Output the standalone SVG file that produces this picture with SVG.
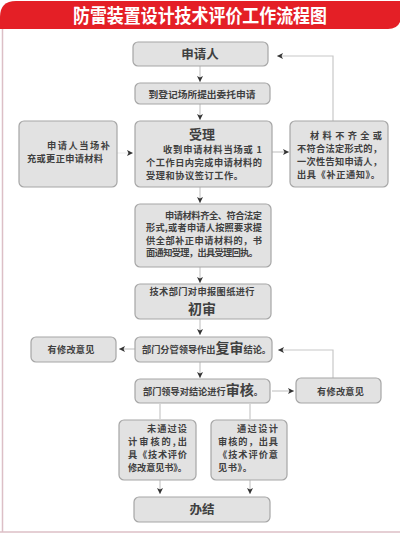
<svg xmlns="http://www.w3.org/2000/svg" width="400" height="535" viewBox="0 0 400 535">
<style>
.box{fill:#e2e2e2;stroke:#a6a6a6;stroke-width:1.2}
.t{font-family:"Noto Sans CJK SC","Noto Sans",sans-serif;fill:#404040;font-size:9.2px;font-weight:bold}
.big{font-size:14px;font-weight:bold}
.c{text-anchor:middle}
.ln{fill:none;stroke:#c8c8c8;stroke-width:1.2}
.title{font-family:"Noto Sans CJK SC","Noto Sans",sans-serif;fill:#ffffff;font-size:19px;font-weight:bold;text-anchor:middle}
</style>
<defs>
<marker id="ah" viewBox="0 0 8 8" refX="8" refY="4" markerWidth="6" markerHeight="6" markerUnits="userSpaceOnUse" orient="auto">
<path d="M0,0 L8,4 L0,8 L2,4 Z" fill="#333"/>
</marker>
</defs>
<rect width="400" height="535" fill="#ffffff"/>
<g id="frame">
<path d="M2.5,29 V532" stroke="#dcbfc6" stroke-width="1.5" fill="none"/>
<path d="M0,532 H400" stroke="#dcbfc6" stroke-width="1.5" fill="none"/>
<path d="M16,1 H400 V29 H0 V17 Q0,1 16,1 Z" fill="#e41f26"/>
<path d="M388,29 Q397,29 400,22 V29 Z" fill="#ffffff"/>
<text class="title" x="200" y="23" textLength="254" lengthAdjust="spacingAndGlyphs">防雷装置设计技术评价工作流程图</text>
</g>
<g id="connectors">
<path class="ln" d="M200,66 V82" marker-end="url(#ah)"/>
<path class="ln" d="M200,104 V120" marker-end="url(#ah)"/>
<path d="M117,153 H133" stroke="#eeeeee" stroke-width="1.2" marker-end="url(#ah)"/>
<path class="ln" d="M272,152 H289" marker-end="url(#ah)"/>
<path class="ln" d="M333,121 V56 H277" marker-end="url(#ah)"/>
<path class="ln" d="M200,187 V203" marker-end="url(#ah)"/>
<path class="ln" d="M200,267 V283" marker-end="url(#ah)"/>
<path class="ln" d="M200,319 V335" marker-end="url(#ah)"/>
<path class="ln" d="M135,349 H119" marker-end="url(#ah)"/>
<path class="ln" d="M200,362 V378" marker-end="url(#ah)"/>
<path class="ln" d="M272,391 H294" marker-end="url(#ah)"/>
<path class="ln" d="M333,378 V350 H278" marker-end="url(#ah)"/>
<path class="ln" d="M160,404 V419"/>
<path class="ln" d="M250,404 V419"/>
<path class="ln" d="M160,480 V494" marker-end="url(#ah)"/>
<path class="ln" d="M250,480 V494" marker-end="url(#ah)"/>
</g>
<g id="n-applicant">
<rect class="box" x="133" y="42" width="135" height="24" rx="5"/>
<text class="t c" x="200" y="59" style="font-size:12.5px">申请人</text>
</g>
<g id="n-register">
<rect class="box" x="135" y="83" width="135" height="21" rx="5"/>
<text class="t c" x="202" y="97.5" textLength="107" lengthAdjust="spacingAndGlyphs">到登记场所提出委托申请</text>
</g>
<g id="n-supplement">
<rect class="box" x="19" y="121" width="98" height="66" rx="5"/>
<text class="t" x="47" y="148.5" textLength="63" lengthAdjust="spacing">申请人当场补</text>
<text class="t" x="27" y="161.5" textLength="76" lengthAdjust="spacing">充或更正申请材料</text>
</g>
<g id="n-accept">
<rect class="box" x="135" y="121" width="137" height="66" rx="5"/>
<text class="t c big" x="202" y="139" style="font-size:13px">受理</text>
<text class="t" x="163" y="152.5" textLength="99" lengthAdjust="spacing">收到申请材料当场或 1</text>
<text class="t" x="146" y="165.5" textLength="116" lengthAdjust="spacing">个工作日内完成申请材料的</text>
<text class="t" x="146" y="178.5" textLength="97" lengthAdjust="spacing">受理和协议签订工作。</text>
</g>
<g id="n-notify">
<rect class="box" x="290" y="121" width="98" height="66" rx="5"/>
<text class="t" x="310" y="138.5" textLength="72" lengthAdjust="spacing">材料不齐全或</text>
<text class="t" x="297" y="151.5" textLength="85" lengthAdjust="spacing">不符合法定形式的，</text>
<text class="t" x="297" y="164.5" textLength="85" lengthAdjust="spacing">一次性告知申请人，</text>
<text class="t" x="297" y="177.5" textLength="83" lengthAdjust="spacing">出具《补正通知》。</text>
</g>
<g id="n-complete">
<rect class="box" x="135" y="204" width="136" height="63" rx="5"/>
<text class="t" x="165" y="218.5" textLength="97" lengthAdjust="spacing">申请材料齐全、符合法定</text>
<text class="t" x="146" y="231" textLength="116" lengthAdjust="spacing">形式,或者申请人按照要求提</text>
<text class="t" x="146" y="243.5" textLength="116" lengthAdjust="spacing">供全部补正申请材料的，书</text>
<text class="t" x="146" y="256" textLength="112" lengthAdjust="spacing">面通知受理，出具受理回执。</text>
</g>
<g id="n-first-review">
<rect class="box" x="135" y="284" width="136" height="35" rx="5"/>
<text class="t c" x="202" y="295" textLength="105" lengthAdjust="spacing">技术部门对申报图纸进行</text>
<text class="t c big" x="202" y="313.5">初审</text>
</g>
<g id="n-re-review">
<rect class="box" x="135" y="337" width="137" height="25" rx="5"/>
<text class="t" x="142" y="353">部门分管领导作出<tspan style="font-size:14px">复审</tspan>结论。</text>
</g>
<g id="n-mod-left">
<rect class="box" x="31" y="337" width="85" height="25" rx="5"/>
<text class="t c" x="71" y="352.5" textLength="47" lengthAdjust="spacing">有修改意见</text>
</g>
<g id="n-audit">
<rect class="box" x="135" y="379" width="135" height="24" rx="5"/>
<text class="t" x="143" y="395">部门领导对结论进行<tspan style="font-size:14px">审核</tspan>。</text>
</g>
<g id="n-mod-right">
<rect class="box" x="296" y="378" width="85" height="25" rx="5"/>
<text class="t c" x="340.5" y="394.5" textLength="47" lengthAdjust="spacing">有修改意见</text>
</g>
<g id="n-fail">
<rect class="box" x="119" y="420" width="77" height="60" rx="5"/>
<text class="t" x="147" y="431.5" textLength="40" lengthAdjust="spacing">未通过设</text>
<text class="t" x="128" y="445" textLength="59" lengthAdjust="spacing">计审核的,出</text>
<text class="t" x="128" y="457.5" textLength="59" lengthAdjust="spacing">具《技术评价</text>
<text class="t" x="128" y="470.5" textLength="59" lengthAdjust="spacing">修改意见书》。</text>
</g>
<g id="n-pass">
<rect class="box" x="211" y="420" width="76" height="60" rx="5"/>
<text class="t" x="237" y="431.5" textLength="41" lengthAdjust="spacing">通过设计</text>
<text class="t" x="218" y="445" textLength="60" lengthAdjust="spacing">审核的，出具</text>
<text class="t" x="218" y="457.5" textLength="60" lengthAdjust="spacing">《技术评价意</text>
<text class="t" x="218" y="470.5" textLength="34" lengthAdjust="spacing">见书》。</text>
</g>
<g id="n-done">
<rect class="box" x="134" y="497" width="136" height="25" rx="5"/>
<text class="t c" x="202" y="514" style="font-size:12.5px">办结</text>
</g>
</svg>
